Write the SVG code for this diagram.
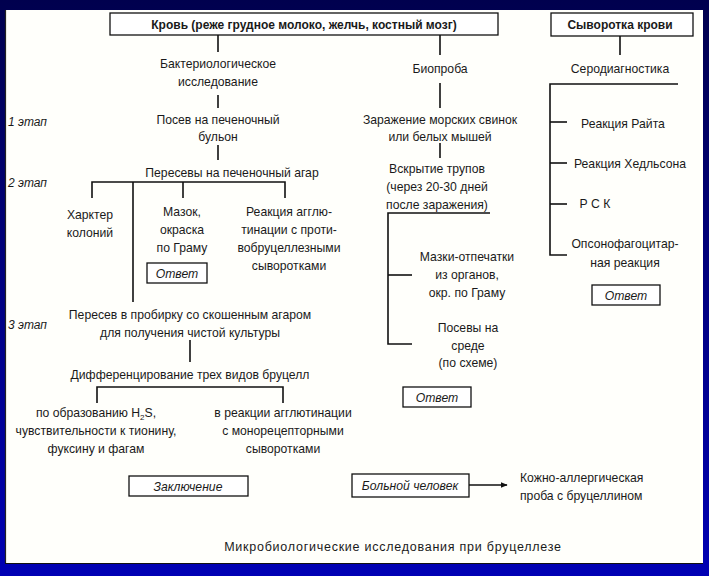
<svg xmlns="http://www.w3.org/2000/svg" width="709" height="576" viewBox="0 0 709 576">
<defs>
<linearGradient id="bg" x1="0" y1="0" x2="0" y2="1">
<stop offset="0" stop-color="#00004e"/>
<stop offset="1" stop-color="#0000b4"/>
</linearGradient>
<marker id="arr" viewBox="0 0 10 10" refX="9" refY="5" markerWidth="7" markerHeight="7" orient="auto" markerUnits="userSpaceOnUse">
<path d="M0,1 L10,5 L0,9 z" fill="#111"/>
</marker>
<style>
text{font-family:"Liberation Sans",Arial,sans-serif;font-size:12.2px;fill:#1a1a1a;text-anchor:middle}
.b{font-weight:bold;font-size:12px}
.i{font-style:italic}
.st{font-style:italic;text-anchor:start;font-size:12px}
.l{text-anchor:start}
.box{fill:#fff;stroke:#111;stroke-width:1.3}
.c line,.c path{stroke:#111;stroke-width:1.6;fill:none}
.cap{font-size:12.5px;letter-spacing:0.75px}
</style>
</defs>
<rect x="0" y="0" width="709" height="576" fill="url(#bg)"/>
<rect x="5" y="10" width="698" height="553" fill="#fffffb"/>
<line x1="5.5" y1="10" x2="5.5" y2="563" stroke="#222" stroke-width="1.2"/>
<line x1="5" y1="563.5" x2="703" y2="563.5" stroke="#111" stroke-width="1"/>

<g class="c" id="connectors">
<line x1="218" y1="35" x2="218" y2="52"/>
<line x1="218" y1="95" x2="218" y2="108"/>
<line x1="218" y1="145" x2="218" y2="160"/>
<path d="M92,198 V182 H285 V198"/>
<line x1="183" y1="182" x2="183" y2="198"/>
<line x1="133" y1="182" x2="133" y2="302"/>
<line x1="190" y1="340" x2="190" y2="362"/>
<path d="M97,403 V387 H283 V403"/>
<line x1="440" y1="35" x2="440" y2="55"/>
<line x1="440" y1="83" x2="440" y2="108"/>
<line x1="440" y1="143" x2="440" y2="158"/>
<path d="M490,213 H388 V344 H412"/>
<line x1="388" y1="275" x2="412" y2="275"/>
<line x1="620" y1="36" x2="620" y2="55"/>
<path d="M678,84 H550 V255 H567"/>
<line x1="550" y1="122" x2="567" y2="122"/>
<line x1="550" y1="163" x2="567" y2="163"/>
<line x1="550" y1="204" x2="567" y2="204"/>
<line x1="469" y1="485" x2="507" y2="485" marker-end="url(#arr)"/>
</g>

<g id="stages">
<text class="st" x="8" y="126">1 этап</text>
<text class="st" x="8" y="187">2 этап</text>
<text class="st" x="8" y="329">3 этап</text>
</g>

<g id="n-blood">
<rect class="box" x="110" y="13" width="388" height="22"/>
<text class="b" x="304" y="28.5">Кровь (реже грудное молоко, желчь, костный мозг)</text>
</g>
<g id="n-serum">
<rect class="box" x="551" y="13" width="142" height="23"/>
<text class="b" x="620" y="29">Сыворотка крови</text>
</g>
<g id="n-bact">
<text x="218" y="68">Бактериологическое</text>
<text x="218" y="86">исследование</text>
</g>
<g id="n-posev">
<text x="218" y="124">Посев на печеночный</text>
<text x="218" y="141">бульон</text>
</g>
<g id="n-peresev">
<text x="232" y="177">Пересевы на печеночный агар</text>
</g>
<g id="n-colonies">
<text x="90" y="219">Харктер</text>
<text x="90" y="237">колоний</text>
</g>
<g id="n-smear">
<text x="182" y="216">Мазок,</text>
<text x="182" y="234">окраска</text>
<text x="182" y="252">по Граму</text>
</g>
<g id="n-aggl">
<text x="289" y="216">Реакция агглю-</text>
<text x="289" y="234">тинации с проти-</text>
<text x="289" y="252">вобруцеллезными</text>
<text x="289" y="270">сыворотками</text>
</g>
<g id="n-answer1">
<rect class="box" x="147" y="263" width="60" height="20"/>
<text class="i" x="177" y="278">Ответ</text>
</g>
<g id="n-tube">
<text x="190" y="319">Пересев в пробирку со скошенным агаром</text>
<text x="190" y="337">для получения чистой культуры</text>
</g>
<g id="n-diff">
<text x="190" y="379">Дифференцирование трех видов бруцелл</text>
</g>
<g id="n-h2s">
<text x="96" y="417">по образованию H<tspan font-size="8" dy="3">2</tspan><tspan dy="-3">S,</tspan></text>
<text x="96" y="435">чувствительности к тионину,</text>
<text x="96" y="453">фуксину и фагам</text>
</g>
<g id="n-mono">
<text x="283" y="417">в реакции агглютинации</text>
<text x="283" y="435">с монорецепторными</text>
<text x="283" y="453">сыворотками</text>
</g>
<g id="n-conclusion">
<rect class="box" x="129" y="476" width="119" height="20"/>
<text class="i" x="188" y="491">Заключение</text>
</g>
<g id="n-bio">
<text x="440" y="73">Биопроба</text>
</g>
<g id="n-infect">
<text x="440" y="124">Заражение морских свинок</text>
<text x="440" y="141">или белых мышей</text>
</g>
<g id="n-autopsy">
<text x="437" y="173">Вскрытие трупов</text>
<text x="437" y="191">(через 20-30 дней</text>
<text x="437" y="209">после заражения)</text>
</g>
<g id="n-imprint">
<text x="467" y="261">Мазки-отпечатки</text>
<text x="467" y="279">из органов,</text>
<text x="467" y="297">окр. по Граму</text>
</g>
<g id="n-sow">
<text x="468" y="332">Посевы на</text>
<text x="468" y="350">среде</text>
<text x="468" y="367">(по схеме)</text>
</g>
<g id="n-answer2">
<rect class="box" x="403" y="387" width="68" height="20"/>
<text class="i" x="437" y="402">Ответ</text>
</g>
<g id="n-patient">
<rect class="box" x="352" y="474" width="117" height="23"/>
<text class="i" x="410" y="490">Больной человек</text>
</g>
<g id="n-skin">
<text class="l" x="520" y="482">Кожно-аллергическая</text>
<text class="l" x="520" y="500">проба с бруцеллином</text>
</g>
<g id="n-sero">
<text x="620" y="73">Серодиагностика</text>
</g>
<g id="n-wright">
<text x="623" y="128">Реакция Райта</text>
</g>
<g id="n-huddleson">
<text x="630" y="168">Реакция Хедльсона</text>
</g>
<g id="n-rsk">
<text x="595" y="208">Р С К</text>
</g>
<g id="n-opso">
<text x="625" y="248">Опсонофагоцитар-</text>
<text x="625" y="267">ная реакция</text>
</g>
<g id="n-answer3">
<rect class="box" x="592" y="285" width="68" height="20"/>
<text class="i" x="626" y="300">Ответ</text>
</g>
<g id="caption">
<text class="cap" x="393" y="551">Микробиологические исследования при бруцеллезе</text>
</g>
</svg>
